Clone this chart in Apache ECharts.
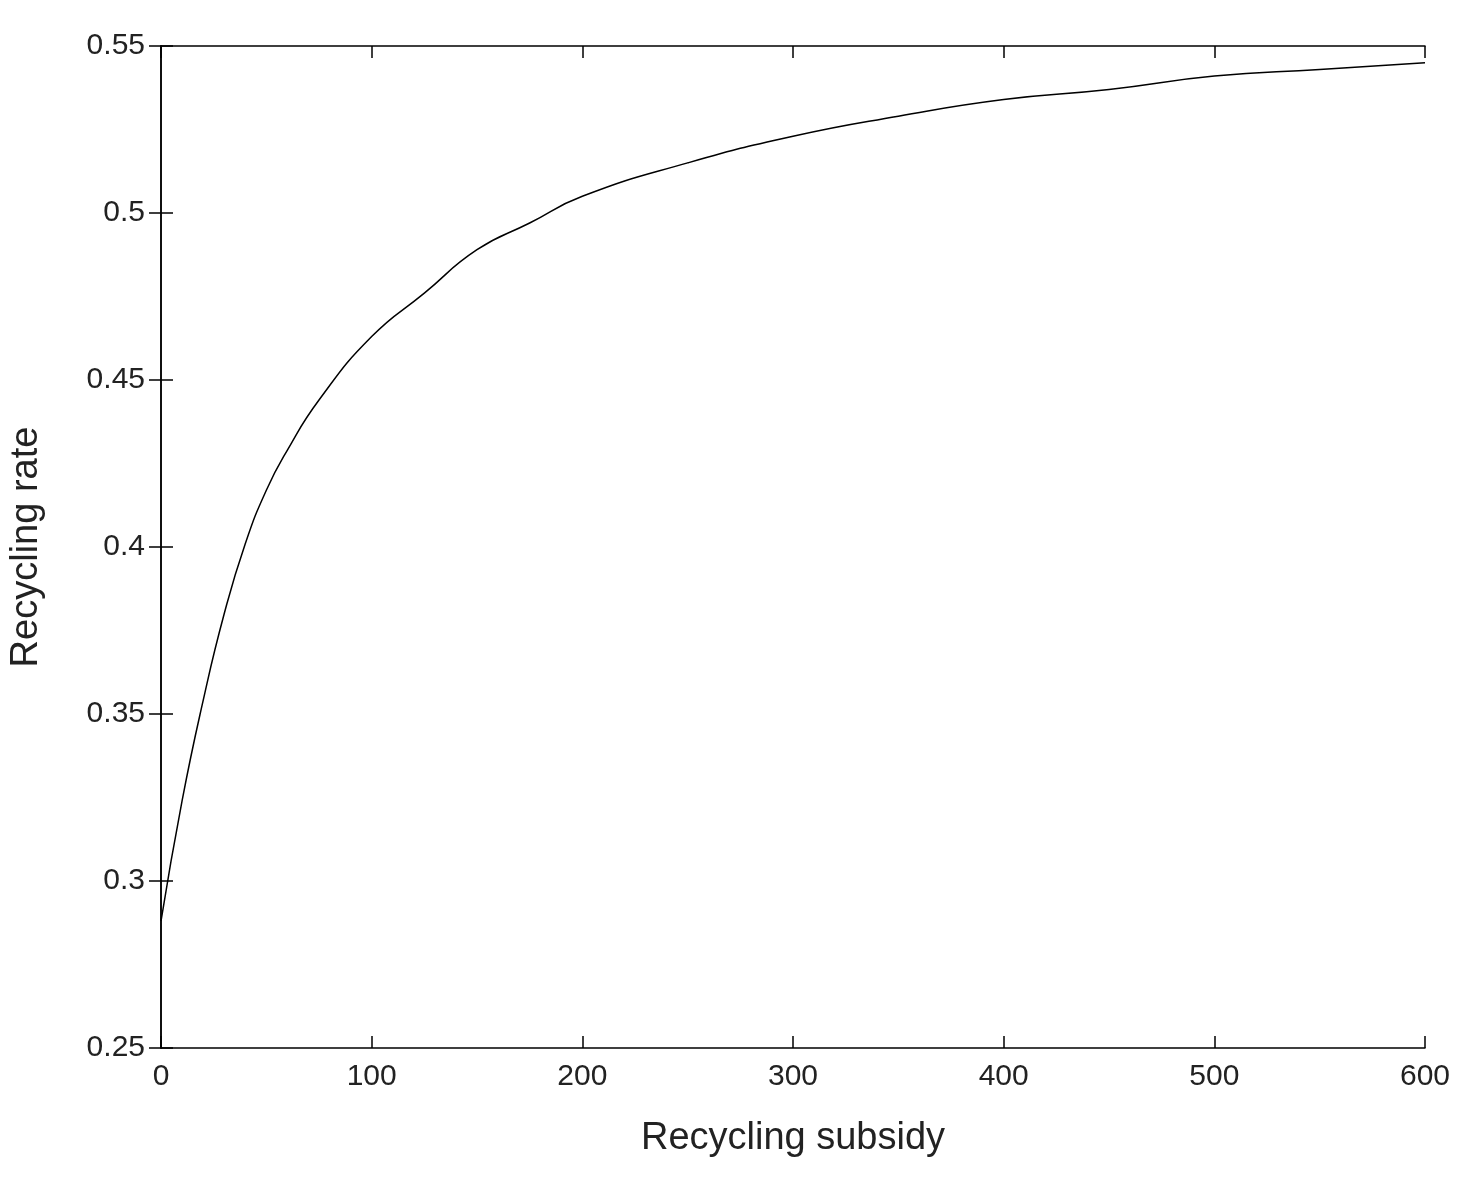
<!DOCTYPE html>
<html><head><meta charset="utf-8">
<script src="https://cdn.jsdelivr.net/npm/echarts@6/dist/echarts.min.js"></script>
<style>html,body{margin:0;padding:0;background:#fff}#c{width:1468px;height:1187px}</style>
</head><body><div id="c"></div>
<script>
const subsidy = [0,10,20,30,40,50,60,75,100,125,150,175,200,250,300,350,400,450,500,550,600];
const rate = [0.288,0.324,0.354,0.380,0.401,0.417,0.429,0.444,0.463,0.476,0.489,0.497,0.505,0.515,0.523,0.529,0.534,0.537,0.541,0.543,0.545];
const xTicks = [0,100,200,300,400,500,600];
const yTicks = [0.25,0.3,0.35,0.4,0.45,0.5,0.55];
const font = 'Liberation Sans, Arial, sans-serif';
const chart = echarts.init(document.getElementById('c'));
const axLine = {show:true,lineStyle:{color:'#000',width:1.5}};
const tick = {show:true,inside:true,length:12,lineStyle:{color:'#000',width:1.5}};
chart.setOption({
  animation:false,
  grid:{left:155,right:43,top:46,bottom:139},
  xAxis:[
    {type:'value',min:0,max:600,interval:100,name:'Recycling subsidy',nameLocation:'middle',nameGap:72,
     nameTextStyle:{fontFamily:font,fontSize:38,color:'#222'},
     axisLine:axLine,axisTick:tick,splitLine:{show:false},
     axisLabel:{fontFamily:font,fontSize:30,color:'#222',margin:14,formatter:v=>xTicks.includes(v)?String(v):''}},
    {type:'value',position:'top',min:0,max:600,interval:100,axisLine:axLine,axisTick:tick,axisLabel:{show:false},splitLine:{show:false}}
  ],
  yAxis:[
    {type:'value',min:0.25,max:0.55,interval:0.05,name:'Recycling rate',nameLocation:'middle',nameGap:115,
     nameTextStyle:{fontFamily:font,fontSize:38,color:'#222'},
     axisLine:axLine,axisTick:tick,splitLine:{show:false},
     axisLabel:{fontFamily:font,fontSize:30,color:'#222',margin:16,formatter:v=>{const t=yTicks.find(a=>Math.abs(a-v)<1e-9);return t===undefined?'':String(t);}}},
    {type:'value',position:'right',min:0.25,max:0.55,interval:0.05,axisLine:axLine,axisTick:tick,axisLabel:{show:false},splitLine:{show:false}}
  ],
  series:[{type:'line',smooth:true,showSymbol:false,data:subsidy.map((x,i)=>[x,rate[i]]),lineStyle:{color:'#000',width:1.5}}]
});
</script></body></html>
